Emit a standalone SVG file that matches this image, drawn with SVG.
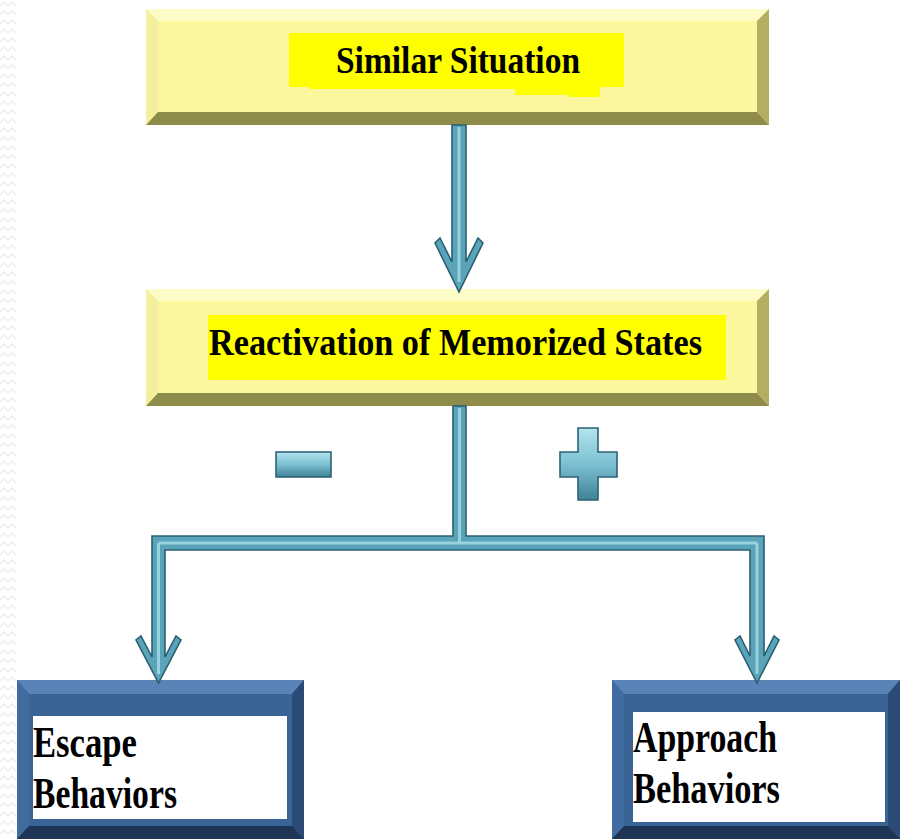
<svg xmlns="http://www.w3.org/2000/svg" width="903" height="839" viewBox="0 0 903 839">
<style>
.lbl{font-family:"Liberation Serif","Times New Roman",serif;font-weight:bold;fill:#000}
.conn{fill:#5aa4ba;stroke:#2a5f72;stroke-width:1.6;stroke-linejoin:miter}
.hl{fill:none;stroke:#a8dde9;stroke-width:3;opacity:0.8}
.sign{fill:url(#signGrad);stroke:#2c6376;stroke-width:1.6}
</style>
<defs>
<pattern id="zig" width="16" height="9" patternUnits="userSpaceOnUse">
<path d="M0,6 L4,2 L8,6 L12,2 L16,6" fill="none" stroke="#ececec" stroke-width="1.4"/>
</pattern>
<linearGradient id="signGrad" x1="0" y1="0" x2="0" y2="1">
<stop offset="0" stop-color="#b4e4ee"/>
<stop offset="0.5" stop-color="#7cc0d2"/>
<stop offset="1" stop-color="#3f8196"/>
</linearGradient>
</defs>
<rect width="903" height="839" fill="#ffffff"/>
<rect x="0" y="0" width="16" height="839" fill="url(#zig)"/>

<g id="node-similar">
<rect x="146" y="9" width="623" height="116" fill="#fbf79e"/>
<polygon points="146,9 769,9 757,21 158,21" fill="#fdfbc8"/>
<polygon points="146,9 158,21 158,112 146,125" fill="#f4ef9c"/>
<polygon points="769,9 769,125 757,112 757,21" fill="#b4ae63"/>
<polygon points="146,125 158,112 757,112 769,125" fill="#8f8b4b"/>
<rect x="289" y="33" width="335" height="54" fill="#ffff00"/>
<polygon points="309,86 600,86 600,97 569,97 569,95 515,95 515,89 309,89" fill="#ffff00"/>
<text class="lbl" x="336" y="73" font-size="38" textLength="244" lengthAdjust="spacingAndGlyphs">Similar Situation</text>
</g>

<g id="node-reactivation">
<rect x="146" y="289" width="623" height="117" fill="#fbf79e"/>
<polygon points="146,289 769,289 757,301 158,301" fill="#fdfbc8"/>
<polygon points="146,289 158,301 158,393 146,406" fill="#f4ef9c"/>
<polygon points="769,289 769,406 757,393 757,301" fill="#b4ae63"/>
<polygon points="146,406 158,393 757,393 769,406" fill="#8f8b4b"/>
<rect x="208" y="315" width="518" height="65" fill="#ffff00"/>
<text class="lbl" x="209" y="355" font-size="38" textLength="493" lengthAdjust="spacingAndGlyphs">Reactivation of Memorized States</text>
</g>

<g id="node-escape">
<rect x="17" y="680" width="287" height="159" fill="#3b6496"/>
<polygon points="17,680 304,680 292,694 29,694" fill="#5a84b8"/>
<polygon points="17,680 29,694 29,826 17,839" fill="#416ca0"/>
<polygon points="304,680 304,839 292,826 292,694" fill="#2b4a75"/>
<polygon points="17,839 29,826 292,826 304,839" fill="#1e3556"/>
<rect x="33" y="716" width="254" height="103" fill="#ffffff"/>
<text class="lbl" x="33" y="757" font-size="44" textLength="104" lengthAdjust="spacingAndGlyphs">Escape</text>
<text class="lbl" x="33" y="808" font-size="44" textLength="144" lengthAdjust="spacingAndGlyphs">Behaviors</text>
</g>

<g id="node-approach">
<rect x="612" y="680" width="288" height="159" fill="#3b6496"/>
<polygon points="612,680 900,680 888,694 624,694" fill="#5a84b8"/>
<polygon points="612,680 624,694 624,826 612,839" fill="#416ca0"/>
<polygon points="900,680 900,839 888,826 888,694" fill="#2b4a75"/>
<polygon points="612,839 624,826 888,826 900,839" fill="#1e3556"/>
<rect x="633" y="712" width="252" height="110" fill="#ffffff"/>
<text class="lbl" x="633" y="752" font-size="44" textLength="144" lengthAdjust="spacingAndGlyphs">Approach</text>
<text class="lbl" x="633" y="803" font-size="44" textLength="147" lengthAdjust="spacingAndGlyphs">Behaviors</text>
</g>

<g id="connectors">
<path class="conn" d="M452,125 H466 V262 L478,238 L483,243 L459,292 L435,243 L440,238 L452,262 Z"/>
<path class="hl" d="M459,127 V282"/>
<path class="conn" d="M453,406 H466 V536 H764 V656 L774,636 L779,640 L757,683 L735,640 L740,636 L750,656 V550 H165 V657 L176,636 L181,640 L158.5,683 L136,640 L141,636 L152,657 V536 H453 Z"/>
<path class="hl" d="M459.5,408 V543 M158.5,543 H757 M158.5,543 V674 M757,543 V674"/>
<rect class="sign" x="276" y="452" width="55" height="25"/>
<path class="sign" d="M578,428 H598 V452 H617 V477 H598 V500 H578 V477 H560 V452 H578 Z"/>
</g>
</svg>
